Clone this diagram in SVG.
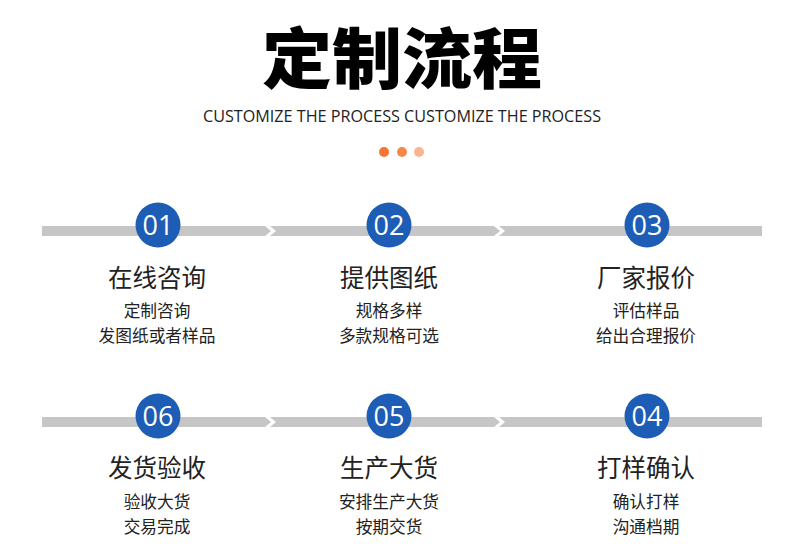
<svg xmlns="http://www.w3.org/2000/svg" width="790" height="552" viewBox="0 0 790 552">
<style>
.h{font-family:"Noto Sans CJK SC","Liberation Sans",sans-serif;font-weight:900;fill:#000;}
.en{font-family:"Open Sans","Liberation Sans",sans-serif;font-size:16.5px;fill:#222;}
.bar{fill:#c6c6c6;}
.c{fill:#1e5db5;}
.n{font-family:"Open Sans","Liberation Sans",sans-serif;font-size:27px;fill:#fff;text-anchor:middle;}
.t{font-family:"Noto Sans CJK SC","Liberation Sans",sans-serif;font-size:24.5px;fill:#222;text-anchor:middle;}
.s{font-family:"Noto Sans CJK SC","Liberation Sans",sans-serif;font-size:16.7px;fill:#222;text-anchor:middle;}
</style>
<rect width="790" height="552" fill="#fff"/>
<g id="header">
<text class="h" x="402" y="83" font-size="66" text-anchor="middle" textLength="280" lengthAdjust="spacingAndGlyphs">定制流程</text>
<text class="en" x="402" y="122" text-anchor="middle" textLength="398" lengthAdjust="spacingAndGlyphs">CUSTOMIZE THE PROCESS CUSTOMIZE THE PROCESS</text>
<circle cx="384" cy="152" r="5" fill="#f57535"/>
<circle cx="402" cy="152" r="5" fill="#f6874b"/>
<circle cx="419" cy="152" r="5" fill="#f9b592"/>
</g>
<g id="connectors">
<polygon class="bar" points="42,226 265,226 271,231 265,236 42,236"/>
<polygon class="bar" points="270,226 494,226 500,231 494,236 270,236 276,231"/>
<polygon class="bar" points="499,226 762,226 762,236 499,236 505,231"/>
<polygon class="bar" points="42,417 265,417 271,422 265,427 42,427"/>
<polygon class="bar" points="270,417 494,417 500,422 494,427 270,427 276,422"/>
<polygon class="bar" points="499,417 762,417 762,427 499,427 505,422"/>
</g>
<g id="step01">
<circle class="c" cx="158" cy="225" r="22.5"/>
<text class="n" x="158" y="234.5">01</text>
<text class="t" x="157" y="287">在线咨询</text>
<text class="s" x="157" y="317">定制咨询</text>
<text class="s" x="157" y="342">发图纸或者样品</text>
</g>
<g id="step02">
<circle class="c" cx="389" cy="225" r="22.5"/>
<text class="n" x="389" y="234.5">02</text>
<text class="t" x="389" y="287">提供图纸</text>
<text class="s" x="389" y="317">规格多样</text>
<text class="s" x="389" y="342">多款规格可选</text>
</g>
<g id="step03">
<circle class="c" cx="647" cy="225" r="22.5"/>
<text class="n" x="647" y="234.5">03</text>
<text class="t" x="646" y="287">厂家报价</text>
<text class="s" x="646" y="317">评估样品</text>
<text class="s" x="646" y="342">给出合理报价</text>
</g>
<g id="step06">
<circle class="c" cx="158" cy="416" r="22.5"/>
<text class="n" x="158" y="425.5">06</text>
<text class="t" x="157" y="477">发货验收</text>
<text class="s" x="157" y="508">验收大货</text>
<text class="s" x="157" y="533">交易完成</text>
</g>
<g id="step05">
<circle class="c" cx="389" cy="416" r="22.5"/>
<text class="n" x="389" y="425.5">05</text>
<text class="t" x="389" y="477">生产大货</text>
<text class="s" x="389" y="508">安排生产大货</text>
<text class="s" x="389" y="533">按期交货</text>
</g>
<g id="step04">
<circle class="c" cx="647" cy="416" r="22.5"/>
<text class="n" x="647" y="425.5">04</text>
<text class="t" x="646" y="477">打样确认</text>
<text class="s" x="646" y="508">确认打样</text>
<text class="s" x="646" y="533">沟通档期</text>
</g>
</svg>
